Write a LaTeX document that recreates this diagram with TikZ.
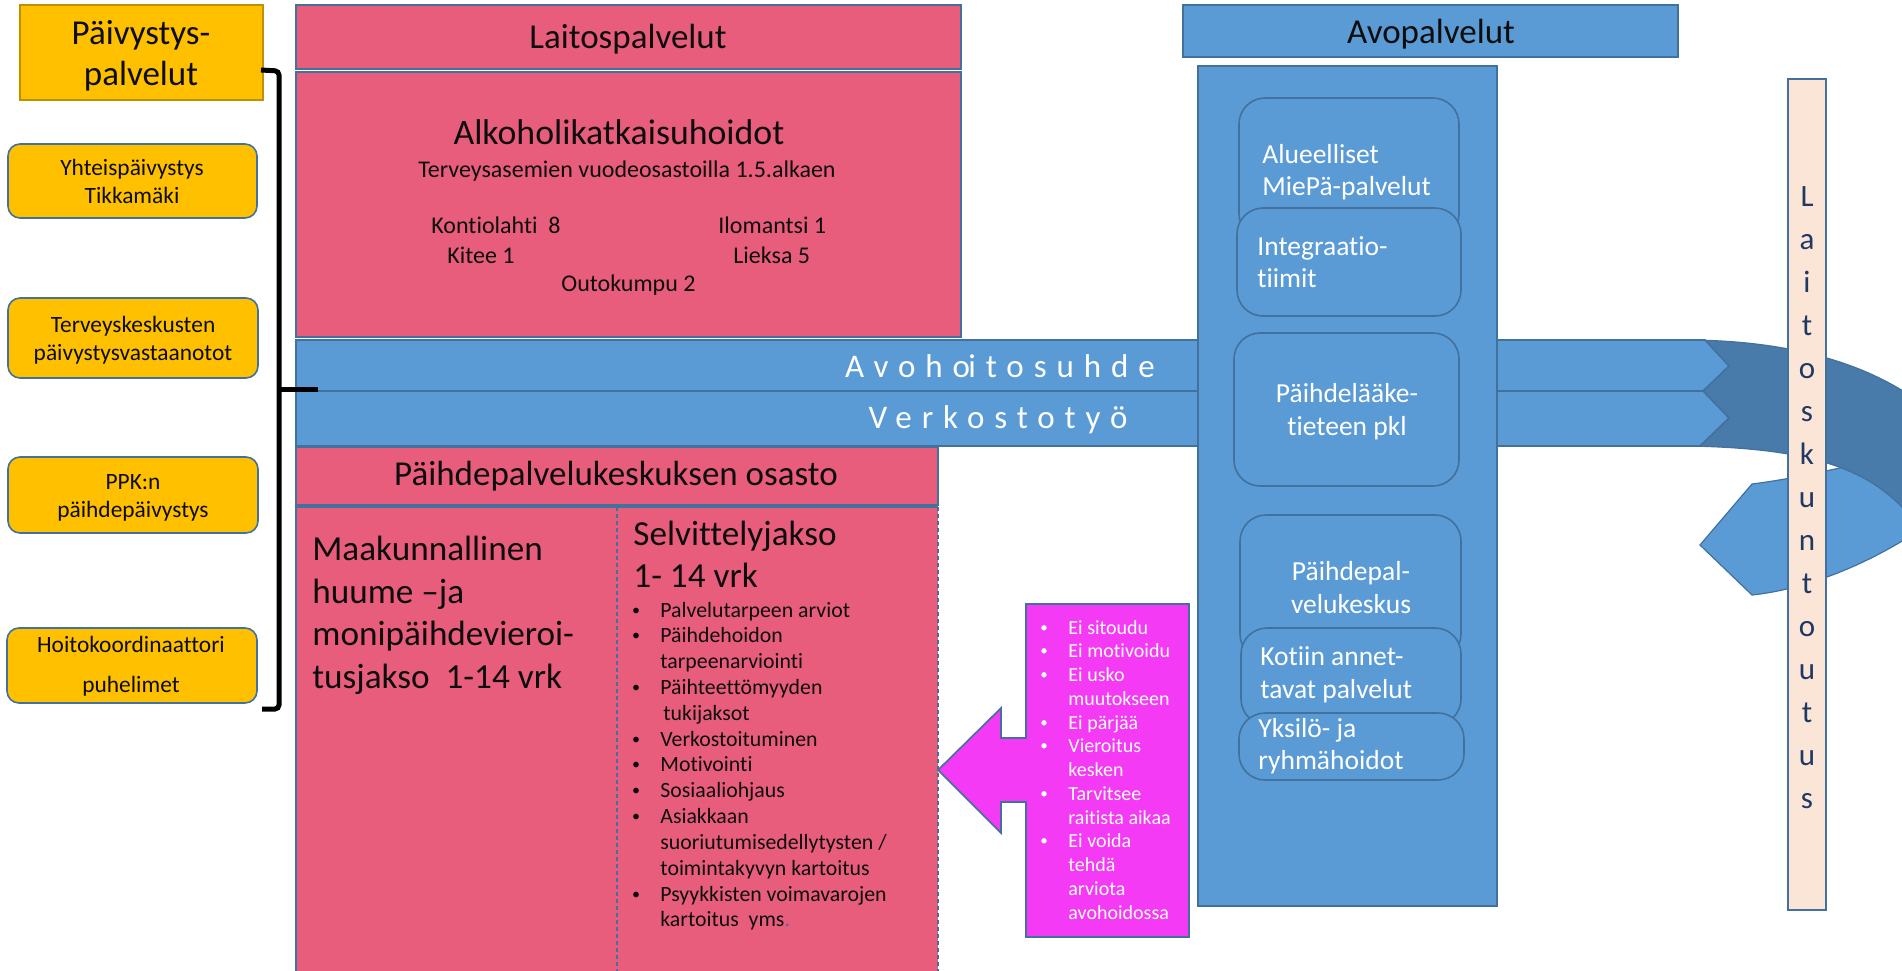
\documentclass[tikz,border=0pt]{standalone}
\usepackage{fontspec}
\setmainfont{Carlito}[Ligatures=NoCommon]
\newfontfamily\spacedfont[LetterSpace=30,Ligatures=NoCommon]{Carlito}
\newcommand{\fsz}[2]{\fontsize{#1}{#2}\selectfont}
\definecolor{pinkc}{RGB}{233,93,124}
\definecolor{bluec}{RGB}{91,155,213}
\definecolor{blueline}{RGB}{65,113,156}
\definecolor{darkcurve}{RGB}{72,123,170}
\definecolor{yell}{RGB}{255,192,0}
\definecolor{gold}{RGB}{191,144,0}
\definecolor{mag}{RGB}{244,58,244}
\definecolor{peach}{RGB}{251,229,214}
\definecolor{navy}{RGB}{31,56,100}
\definecolor{txt}{RGB}{13,13,13}
\begin{document}
\begin{tikzpicture}[x=0.5pt,y=-0.5pt,
  pinkbox/.style={fill=pinkc, draw=blueline, line width=0.8pt},
  bluebox/.style={fill=bluec, draw=blueline, line width=0.8pt},
  innerbox/.style={fill=bluec, draw=blueline, line width=0.8pt, rounded corners=13pt},
  yellowbox/.style={fill=yell, draw=blueline, line width=0.8pt, rounded corners=6pt},
  hdr/.style={font=\fsz{17.5}{21}, text=txt, inner sep=0pt},
  mid/.style={font=\fsz{12}{14}, text=txt, inner sep=0pt},
  yt/.style={font=\fsz{11.7}{14}, text=txt, inner sep=0pt},
  wt/.style={font=\fsz{13.75}{16}, text=white, inner sep=0pt},
  big/.style={font=\fsz{17.6}{21}, text=txt, inner sep=0pt},
  lst/.style={font=\fsz{10.9}{13}, text=txt, inner sep=0pt},
  lstb/.style={font=\fsz{8}{10}, text=txt, inner sep=0pt},
  mlst/.style={font=\fsz{10}{12}, text=white, inner sep=0pt},
  mlstb/.style={font=\fsz{7.5}{9}, text=white, inner sep=0pt},
  band/.style={font=\fsz{16.5}{20}\spacedfont, text=white, inner sep=0pt},
  dashedline/.style={draw=blueline, line width=0.6pt, dash pattern=on 2pt off 1.5pt}
]
\useasboundingbox (0,0) rectangle (1902,970);
\clip (0,0) rectangle (1902,970);

% ---- U-turn curve (front, light part with head)
\filldraw[fill=bluec, draw=blueline, line width=0.6pt]
  (1752,484) .. controls (1800,478) and (1850,466) .. (1960,440)
  -- (1960,500) .. controls (1880,566) and (1800,590) .. (1752,595)
  -- (1700,545) -- cycle;
% ---- U-turn curve (back, dark part)
\filldraw[fill=darkcurve, draw=blueline, line width=0.6pt]
  (1690,340) .. controls (1800,341) and (1900,368) .. (1960,440)
  -- (1960,580)
  .. controls (1930,540) and (1910,512) .. (1890,496)
  .. controls (1850,462) and (1790,448) .. (1690,446) -- cycle;

% ---- horizontal band arrows
\filldraw[fill=bluec, draw=blueline, line width=0.8pt]
  (296,340) -- (1705,340) -- (1729,366) -- (1703,391) -- (296,391) -- cycle;
\filldraw[fill=bluec, draw=blueline, line width=0.8pt]
  (296,391) -- (1703,391) -- (1729,418) -- (1700,446) -- (296,446) -- cycle;
\node[band, anchor=base] (avo) at (1000,377) {Avoho\kern-0.8pt itosuhde};
\node[band, anchor=base] (verk) at (998,428) {Verkostotyö};

% ---- Laitospalvelut
\draw[pinkbox] (296,5) rectangle (961,69);
\node[hdr, anchor=base] (laitos) at (628,48) {Laitospalvelut};
\draw[pinkbox] (296,72) rectangle (961,337);
\node[hdr, anchor=base, font=\fsz{17.9}{21}] (alko) at (619,144) {Alkoholikatkaisuhoidot};
\node[mid, anchor=base] (terv) at (627,177) {Terveysasemien vuodeosastoilla 1.5.alkaen};
\node[mid, anchor=base west] (kont) at (431,233) {Kontiolahti\ \ 8};
\node[mid, anchor=base west] (ilom) at (718,233) {Ilomantsi 1};
\node[mid, anchor=base west] (kitee) at (447,263) {Kitee 1};
\node[mid, anchor=base west] (lieksa) at (733,263) {Lieksa 5};
\node[mid, anchor=base west] (outo) at (561,291) {Outokumpu 2};

% ---- Paihdepalvelukeskuksen osasto
\draw[pinkbox] (296,447) rectangle (938,505);
\node[hdr, anchor=base] (osasto) at (616,485) {Päihdepalvelukeskuksen\ osasto};
\fill[pinkc] (296,507) rectangle (938,980);
\draw[blueline, line width=0.8pt] (296,980) -- (296,507) -- (938,507);
\draw[dashedline] (617,507) -- (617,980);
\draw[dashedline] (938,507) -- (938,980);
\node[big, anchor=base west] (m1) at (312,560) {Maakunnallinen};
\node[big, anchor=base west] (m2) at (312,603) {huume –ja};
\node[big, anchor=base west] (m3) at (312,645) {monipäihdevieroi-};
\node[big, anchor=base west] (m4) at (312,688) {tusjakso\ \ 1-14 vrk};
\node[big, anchor=base west] (selv1) at (633,545) {Selvittelyjakso};
\node[big, anchor=base west] (selv2) at (633,587) {1- 14 vrk};
\foreach \t [count=\i from 0] in {Palvelutarpeen arviot, Päihdehoidon, tarpeenarviointi, Päihteettömyyden, \hspace{1.5pt}tukijaksot, Verkostoituminen, Motivointi, Sosiaaliohjaus, Asiakkaan, suoriutumisedellytysten /, toimintakyvyn kartoitus, Psyykkisten voimavarojen, kartoitus\ \ yms{\color{blueline}.}}
  \node[lst, anchor=base west] (sl\i) at (660,{617+25.83*\i}) {\t};
\foreach \i in {0,1,3,5,6,7,8,11}
  \node[lstb, anchor=base] (sb\i) at (636,{615+25.83*\i}) {•};

% ---- magenta arrow
\filldraw[fill=mag, draw=blueline, line width=0.8pt]
  (1026,604) -- (1189,604) -- (1189,937) -- (1026,937) -- (1026,802) -- (1001,802)
  -- (1001,833) -- (938,770) -- (1001,708) -- (1001,738) -- (1026,738) -- cycle;
\foreach \t [count=\i from 0] in {Ei sitoudu, Ei motivoidu, Ei usko, muutokseen, Ei pärjää, Vieroitus, kesken, Tarvitsee, raitista aikaa, Ei voida, tehdä, arviota, avohoidossa}
  \node[mlst, anchor=base west] (ml\i) at (1068,{634+23.75*\i}) {\t};
\foreach \i in {0,1,2,4,5,7,9}
  \node[mlstb, anchor=base] (mb\i) at (1044,{632+23.75*\i}) {•};

% ---- Avopalvelut
\draw[bluebox] (1183,5) rectangle (1678,57);
\node[hdr, anchor=base] (avop) at (1431,43) {Avopalvelut};
\draw[bluebox] (1198,66) rectangle (1497,906);
\draw[innerbox] (1239,98) rectangle (1459,240);
\node[wt, anchor=base west] (al1) at (1262,163) {Alueelliset};
\node[wt, anchor=base west] (al2) at (1262,195) {MiePä-palvelut};
\draw[innerbox] (1237,208) rectangle (1461,316);
\node[wt, anchor=base west] (in1) at (1257,255) {Integraatio-};
\node[wt, anchor=base west] (in2) at (1257,287) {tiimit};
\draw[innerbox] (1234,333) rectangle (1459,486);
\node[wt, anchor=base] (pl1) at (1347,402) {Päihdelääke-};
\node[wt, anchor=base] (pl2) at (1347,435) {tieteen pkl};
\draw[innerbox] (1240,515) rectangle (1461,660);
\node[wt, anchor=base] (pk1) at (1351,580) {Päihdepal-};
\node[wt, anchor=base] (pk2) at (1351,613) {velukeskus};
\draw[innerbox] (1241,628) rectangle (1461,725);
\node[wt, anchor=base west] (ko1) at (1260,665) {Kotiin annet-};
\node[wt, anchor=base west] (ko2) at (1260,698) {tavat palvelut};
\draw[innerbox] (1239,713) rectangle (1464,780);
\node[wt, anchor=base west] (yk1) at (1258,737) {Yksilö- ja};
\node[wt, anchor=base west] (yk2) at (1258,769) {ryhmähoidot};

% ---- Laitoskuntoutus bar
\draw[fill=peach, draw=blueline, line width=0.8pt] (1788,79) rectangle (1826,910);
\foreach \l [count=\i from 0] in {L,a,i,t,o,s,k,u,n,t,o,u,t,u,s}
  \node[font=\fsz{15.5}{18}, text=navy, inner sep=0pt, anchor=base] (lk\i) at (1807,{206+43*\i}) {\l};

% ---- Paivystyspalvelut
\draw[fill=yell, draw=gold, line width=0.8pt] (20,5) rectangle (263,100);
\node[hdr, anchor=base] (pv1) at (141,44) {Päivystys-};
\node[hdr, anchor=base] (pv2) at (141,85) {palvelut};
\draw[yellowbox] (8,144) rectangle (257,218);
\node[yt, anchor=base] (y1a) at (132,175) {Yhteispäivystys};
\node[yt, anchor=base] (y1b) at (132,203) {Tikkamäki};
\draw[yellowbox] (8,298) rectangle (258,378);
\node[yt, anchor=base] (y2a) at (133,332) {Terveyskeskusten};
\node[yt, anchor=base] (y2b) at (133,360) {päivystysvastaanotot};
\draw[yellowbox] (8,457) rectangle (258,533);
\node[yt, anchor=base] (y3a) at (133,489) {PPK:n};
\node[yt, anchor=base] (y3b) at (133,517) {päihdepäivystys};
\draw[yellowbox] (7,628) rectangle (257,703);
\node[yt, anchor=base] (y4a) at (131,652) {Hoitokoordinaattori};
\node[yt, anchor=base] (y4b) at (131,692) {puhelimet};

% ---- bracket
\draw[black, line width=2.5pt, rounded corners=2pt] (261,70) -- (279,71) -- (279,709) -- (262,709);
\draw[black, line width=2.5pt] (279,389) -- (318,389);
\end{tikzpicture}
\end{document}
